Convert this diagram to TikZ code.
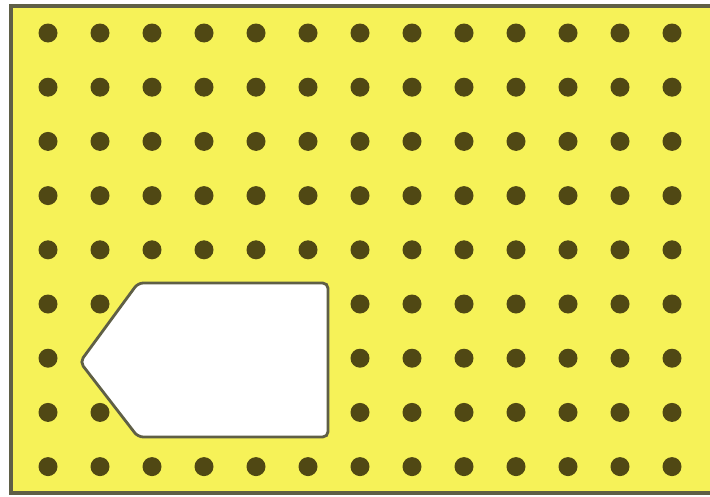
\documentclass[tikz,border=0pt]{standalone}
\begin{document}
\definecolor{boardyellow}{RGB}{246,242,88}
\definecolor{holebrown}{RGB}{80,72,20}
\definecolor{edgegray}{RGB}{95,95,70}
\begin{tikzpicture}[x=0.02cm, y=-0.02cm]
    \useasboundingbox (0,0) rectangle (710,497);
    % Draw board
    \fill[white] (0,0) rectangle (710,497);
    \draw[edgegray, line width=2.2pt, fill=boardyellow] (11,6) rectangle (716,493);
    
    % Draw holes
    \foreach \col in {0,...,12}
        \foreach \row in {0,...,8}
            \fill[holebrown] (48+52*\col, 33+54.2*\row) circle (9.5);
    
    % Draw cut-out
    \draw[edgegray, line width=1.6pt, fill=white, rounded corners=3]
        (138,283) -- (328,283) -- (328,437) -- (138,437) -- (80,362) -- cycle;
\end{tikzpicture}
\end{document}
